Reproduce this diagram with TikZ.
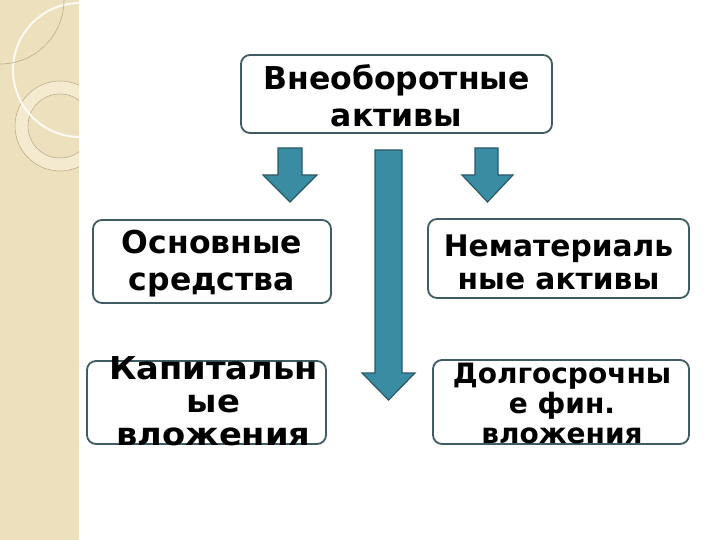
\documentclass[tikz,border=0pt]{standalone}
\usepackage{fontspec}
\setmainfont{DejaVu Sans}
\newfontfamily\widefont[FakeStretch=1.07]{DejaVu Sans}
\definecolor{beige}{RGB}{236,224,189}
\definecolor{beigelight}{RGB}{243,234,208}
\definecolor{arcgrey}{RGB}{190,175,140}
\definecolor{boxline}{RGB}{62,92,98}
\definecolor{arrowfill}{RGB}{58,140,163}
\definecolor{arrowline}{RGB}{44,88,102}
\tikzset{
  box/.style={draw=boxline, line width=1.8pt, rounded corners=9pt, fill=white, inner sep=0pt},
  boxtext/.style n args={2}{font=\bfseries\fontsize{#1}{#2}\selectfont, align=center, inner sep=0pt, text=black},
  widetext/.style n args={2}{font=\widefont\bfseries\fontsize{#1}{#2}\selectfont, align=center, inner sep=0pt, text=black},
  blockarrow/.style={fill=arrowfill, draw=arrowline, line width=1.2pt, line join=miter},
}
\begin{document}
\begin{tikzpicture}[x=1pt,y=-1pt]
  \useasboundingbox (0,0) rectangle (720,540);
  \fill[white] (0,0) rectangle (720,540);
  % decorative strip
  \fill[beige] (0,0) rectangle (79,540);
  \begin{scope}
    \clip (0,0) rectangle (79,540);
    \fill[beigelight, even odd rule] (60,126) circle[radius=45] (60,126) circle[radius=32];
    \draw[arcgrey, line width=0.6pt] (60,126) circle[radius=45];
    \draw[arcgrey, line width=0.6pt] (60,126) circle[radius=32];
    \draw[white!85!beige, line width=2pt] (80,70) circle[radius=67];
    \draw[arcgrey, line width=0.6pt] (0,0) circle[radius=64];
  \end{scope}
  % boxes
  \node[box, minimum width=311pt, minimum height=78pt] (top) at (396.5,94) {};
  \node[box, minimum width=238pt, minimum height=83pt] (os) at (212,261.5) {};
  \node[box, minimum width=261pt, minimum height=79pt] (nm) at (558.5,258.5) {};
  \node[box, minimum width=239pt, minimum height=83pt] (kv) at (206.5,402.5) {};
  \node[box, minimum width=256pt, minimum height=84pt] (dv) at (561,402) {};
  % texts
  \node[boxtext={31.5}{37}] (toptext) at (396.5,96) {Внеоборотные\\активы};
  \node[boxtext={31.5}{37}] (ostext) at (212,264) {Основные\\средства};
  \node[boxtext={29.7}{33}] (nmtext) at (558.5,262) {Нематериаль\\ные активы};
  \node[widetext={31.5}{33}] (kvtext) at (213.5,401) {Капитальн\\ые\\вложения};
  \node[boxtext={28}{30}] (dvtext) at (562,403) {Долгосрочны\\е фин.\\вложения};
  % block arrows
  \draw[blockarrow] (278,148) -- (302,148) -- (302,175) -- (317,175) -- (290,202) -- (263,175) -- (278,175) -- cycle;
  \draw[blockarrow] (475,148) -- (498,148) -- (498,175) -- (513,175) -- (487.5,202) -- (462,175) -- (475,175) -- cycle;
  \draw[blockarrow] (375,150) -- (402,150) -- (402,373) -- (415,373) -- (388.5,400) -- (362,373) -- (375,373) -- cycle;
\end{tikzpicture}
\end{document}
